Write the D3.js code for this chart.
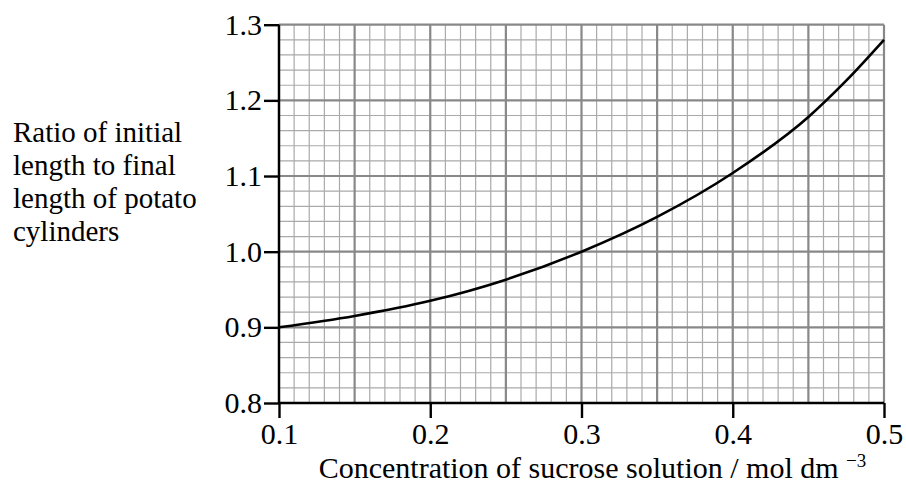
<!DOCTYPE html>
<html>
<head>
<meta charset="utf-8">
<script src="https://cdn.jsdelivr.net/npm/d3@7"></script>
</head>
<body style="margin:0">
<svg id="chart" width="906" height="491" style="font-family: 'Liberation Serif'"></svg>
<script>
// concentration of sucrose (mol dm-3) and ratio
var concentration = [0.10, 0.15, 0.20, 0.25, 0.30, 0.35, 0.40, 0.45, 0.475, 0.50];
var ratio = [0.900, 0.915, 0.935, 0.963, 1.000, 1.046, 1.104, 1.178, 1.226, 1.280];

var xTicks = [0.1, 0.2, 0.3, 0.4, 0.5];
var yTicks = [0.8, 0.9, 1.0, 1.1, 1.2, 1.3];
var yLabelLines = ["Ratio of initial", "length to final", "length of potato", "cylinders"];

var serif = '"Liberation Serif"';

var margin = {top: 24.7, right: 22, bottom: 88, left: 279};
var fullWidth = 906, fullHeight = 491;
var width = fullWidth - margin.left - margin.right;
var height = fullHeight - margin.top - margin.bottom;

var svg = d3.select('#chart');
var g = svg.append('g')
  .attr('transform', 'translate(' + margin.left + ',' + margin.top + ')');

var x = d3.scaleLinear().domain([0.1, 0.5]).range([0, width]);
var y = d3.scaleLinear().domain([0.8, 1.3]).range([height, 0]);

// grid - minor lines first, then the major ones on top
var vLines = d3.range(10, 51).map(function(d) { return d / 100; });
var hLines = d3.range(40, 66).map(function(d) { return d / 50; });
var isMajorX = function(d) { return Math.round(d * 100) % 5 === 0; };
var isMajorY = function(d) { return Math.round(d * 100) % 10 === 0; };

var grid = g.append('g').classed('grid', true);
grid.selectAll('line.vminor')
  .data(vLines.filter(function(d) { return !isMajorX(d); }))
  .enter().append('line')
    .attr('x1', function(d) { return x(d); })
    .attr('x2', function(d) { return x(d); })
    .attr('y1', 0).attr('y2', height)
    .attr('stroke', '#aaa').attr('stroke-width', 1.2);
grid.selectAll('line.hminor')
  .data(hLines.filter(function(d) { return !isMajorY(d); }))
  .enter().append('line')
    .attr('y1', function(d) { return y(d); })
    .attr('y2', function(d) { return y(d); })
    .attr('x1', 0).attr('x2', width)
    .attr('stroke', '#aaa').attr('stroke-width', 1.2);
grid.selectAll('line.vmajor')
  .data(vLines.filter(isMajorX))
  .enter().append('line')
    .attr('x1', function(d) { return x(d); })
    .attr('x2', function(d) { return x(d); })
    .attr('y1', 0).attr('y2', height)
    .attr('stroke', '#888').attr('stroke-width', 2.2);
grid.selectAll('line.hmajor')
  .data(hLines.filter(isMajorY))
  .enter().append('line')
    .attr('y1', function(d) { return y(d); })
    .attr('y2', function(d) { return y(d); })
    .attr('x1', 0).attr('x2', width)
    .attr('stroke', '#888').attr('stroke-width', 2.2);

// the curve
var line = d3.line()
  .x(function(d, i) { return x(concentration[i]); })
  .y(function(d) { return y(d); })
  .curve(d3.curveMonotoneX);
g.append('path')
  .datum(ratio)
  .attr('d', line)
  .attr('fill', 'none')
  .attr('stroke', '#000')
  .attr('stroke-width', 2.6);

// axes
var xAxis = d3.axisBottom(x).tickValues(xTicks).tickSize(15).tickPadding(5)
  .tickFormat(d3.format('.1f'));
var yAxis = d3.axisLeft(y).tickValues(yTicks).tickSize(15).tickPadding(2)
  .tickFormat(d3.format('.1f'));

var xAxisEle = g.append('g')
  .attr('transform', 'translate(0,' + height + ')')
  .call(xAxis);
var yAxisEle = g.append('g').call(yAxis);

[xAxisEle, yAxisEle].forEach(function(a) {
  a.attr('font-family', 'Liberation Serif').attr('font-size', 30);
  a.select('.domain').attr('stroke', '#000').attr('stroke-width', 2.4);
  a.selectAll('.tick line').attr('stroke', '#000').attr('stroke-width', 2.4);
  a.selectAll('.tick text')
    .attr('fill', '#000')
    .attr('font-family', 'Liberation Serif')
    .style('font-family', serif);
});
xAxisEle.select('.domain').attr('d', 'M0,0H' + width);
yAxisEle.select('.domain').attr('d', 'M0,' + height + 'V0');

// y label, four lines on the left
yLabelLines.forEach(function(t, i) {
  svg.append('text')
    .attr('x', 13)
    .attr('y', 142 + i * 33)
    .attr('font-size', 29)
    .attr('font-family', 'Liberation Serif')
    .style('font-family', serif)
    .text(t);
});

// x label with superscript
var xText = svg.append('text')
  .attr('x', margin.left + width / 2 + 11)
  .attr('y', 478)
  .attr('font-size', 30)
  .attr('font-family', 'Liberation Serif')
  .style('font-family', serif)
  .attr('text-anchor', 'middle');
xText.append('tspan').text('Concentration of sucrose solution / mol dm ');
xText.append('tspan')
  .attr('dy', -11)
  .attr('font-size', 19)
  .text('\u22123');
</script>
</body>
</html>
